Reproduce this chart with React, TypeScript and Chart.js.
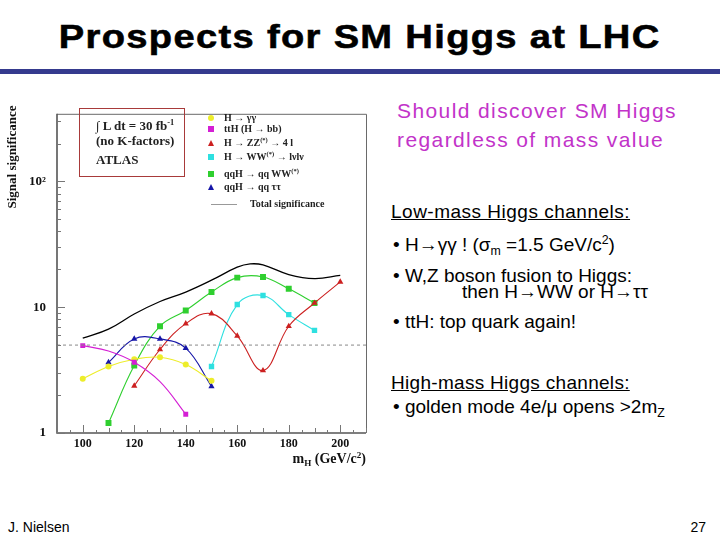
import React, { useEffect, useRef } from "react";
import { Chart, registerables } from "chart.js";

Chart.register(...registerables);

// ---- data ----
const massGG = [100, 110, 120, 130, 140, 150];
const sigGG = [2.7, 3.38, 3.86, 4.0, 3.5, 2.6];

const massTTH = [100, 110, 120, 130, 140];
const sigTTH = [4.95, 4.48, 3.65, 2.56, 1.41];
const markTTH = [1, 0, 1, 0, 1];

const massZZ = [120, 130, 140, 150, 160, 170, 180, 190, 200];
const sigZZ = [2.37, 4.61, 7.4, 8.89, 5.91, 3.14, 7.06, 10.8, 15.9];

const massWW = [150, 160, 170, 180, 190];
const sigWW = [3.38, 10.5, 12.4, 8.73, 6.54];

const massVBFWW = [110, 120, 130, 140, 150, 160, 170, 180, 190];
const sigVBFWW = [1.2, 3.44, 7.06, 9.43, 13.2, 17.2, 17.4, 14.0, 10.8];

const massVBFTT = [110, 120, 130, 140, 150];
const sigVBFTT = [3.64, 5.6, 5.6, 4.73, 2.35];

const massTotal = [100, 110, 120, 130, 140, 150, 160, 165, 170, 180, 190, 200];
const sigTotal = [5.67, 6.69, 8.83, 11.1, 13.2, 16.4, 20.8, 22.1, 21.7, 18.2, 16.9, 17.9];

const discoveryMass = [90, 210];
const discoveryLevel = [5, 5];

const xTickValues = [100, 120, 140, 160, 180, 200];
const yTickValues = [1, 10, 100];
const yTickLabels = ["1", "10", "10²"];

const pts = (xs: number[], ys: number[]) => xs.map((x, i) => ({ x, y: ys[i] }));

const SERIF = "'Liberation Serif', 'DejaVu Serif', serif";
const SANS = "'Liberation Sans', Arial, sans-serif";

const frameTicks = {
  id: "frameTicks",
  afterDatasetsDraw(chart: any) {
    const { ctx, chartArea, scales } = chart;
    const { left, right, top, bottom } = chartArea;
    const x = scales.x;
    const y = scales.y;
    ctx.save();
    ctx.strokeStyle = "#6a6a6a";
    ctx.lineWidth = 1;
    ctx.beginPath();
    ctx.moveTo(left, top + 0.5);
    ctx.lineTo(right + 0.5, top + 0.5);
    ctx.lineTo(right + 0.5, bottom);
    ctx.stroke();
    ctx.strokeStyle = "#555";
    ctx.lineWidth = 1.6;
    ctx.beginPath();
    ctx.moveTo(left, top);
    ctx.lineTo(left, bottom);
    ctx.lineTo(right, bottom);
    ctx.stroke();
    ctx.lineWidth = 1;
    ctx.strokeStyle = "#777";
    ctx.beginPath();
    for (let v = x.min; v <= x.max; v += 5) {
      const px = Math.round(x.getPixelForValue(v)) + 0.5;
      const len = v % 20 === 0 ? 8 : v % 10 === 0 ? 5 : 3;
      ctx.moveTo(px, bottom);
      ctx.lineTo(px, bottom - len);
    }
    for (let d = 1; d <= 100; d *= 10) {
      for (let k = 1; k <= 9; k++) {
        const v = d * k;
        if (v > y.max) break;
        const py = Math.round(y.getPixelForValue(v)) + 0.5;
        const len = k === 1 ? 8 : 4;
        ctx.moveTo(left, py);
        ctx.lineTo(left + len, py);
      }
    }
    ctx.stroke();
    ctx.restore();
  },
};

function ChartCanvas() {
  const ref = useRef<HTMLCanvasElement | null>(null);
  useEffect(() => {
    if (!ref.current) return;
    const line = (label: string, xs: number[], ys: number[], color: string, style: string, r: number, extra: any = {}) => ({
      label,
      data: pts(xs, ys),
      borderColor: color,
      backgroundColor: color,
      borderWidth: 1.1,
      pointStyle: style,
      pointRadius: r,
      pointBorderWidth: 0,
      tension: 0.4,
      ...extra,
    });
    const chart = new Chart(ref.current, {
      type: "line",
      data: {
        datasets: [
          {
            label: "5 sigma",
            data: pts(discoveryMass, discoveryLevel),
            borderColor: "#888",
            borderWidth: 1,
            borderDash: [3, 3],
            pointRadius: 0,
            tension: 0,
          },
          {
            label: "Total significance",
            data: pts(massTotal, sigTotal),
            borderColor: "#000",
            borderWidth: 1.3,
            pointRadius: 0,
            tension: 0.4,
          },
          line("ttH", massTTH, sigTTH, "#d41fd4", "rect", 0, {
            pointRadius: markTTH.map((m) => (m ? 3.5 : 0)),
          }),
          line("H->gg", massGG, sigGG, "#eded2a", "circle", 3),
          line("qqH->qqtautau", massVBFTT, sigVBFTT, "#1616a8", "triangle", 3.6),
          line("H->ZZ", massZZ, sigZZ, "#cc2020", "triangle", 3.6),
          line("H->WW", massWW, sigWW, "#2ee0e0", "rect", 3.8),
          line("qqH->qqWW", massVBFWW, sigVBFWW, "#2fcf2f", "rect", 4.2),
        ],
      },
      options: {
        animation: false,
        responsive: false,
        maintainAspectRatio: false,
        layout: { padding: { left: 0, top: 8, right: 14, bottom: 0 } },
        plugins: { legend: { display: false }, tooltip: { enabled: false } },
        scales: {
          x: {
            type: "linear",
            min: 90,
            max: 210,
            grid: { display: false, drawTicks: false },
            border: { display: false },
            afterBuildTicks: (s: any) => {
              s.ticks = xTickValues.map((v) => ({ value: v }));
            },
            afterFit: (s: any) => {
              s.height = 42;
            },
            ticks: {
              padding: 4,
              autoSkip: false,
              maxRotation: 0,
              color: "#111",
              font: { family: SERIF, weight: "bold", size: 12 },
            },
          },
          y: {
            type: "logarithmic",
            min: 1,
            max: 345,
            grid: { display: false, drawTicks: false },
            border: { display: false },
            afterBuildTicks: (s: any) => {
              s.ticks = yTickValues.map((v) => ({ value: v }));
            },
            afterFit: (s: any) => {
              s.width = 57;
            },
            ticks: {
              padding: 11,
              color: "#111",
              font: { family: SERIF, weight: "bold", size: 13 },
              callback: (v: any) => {
                const i = yTickValues.indexOf(Number(v));
                return i >= 0 ? yTickLabels[i] : "";
              },
            },
          },
        },
      },
      plugins: [frameTicks],
    } as any);
    return () => chart.destroy();
  }, []);
  return (
    <canvas
      ref={ref}
      width={380}
      height={380}
      style={{ position: "absolute", left: 0, top: 95, width: 380, height: 380 }}
    />
  );
}

function T(props: { x: number; y: number; size: number; children: any; style?: any; right?: boolean }) {
  const { x, y, size, children, style, right } = props;
  const pos: any = right ? { right: 720 - x } : { left: x };
  return (
    <div
      style={{
        position: "absolute",
        top: y - size / 2,
        ...pos,
        fontSize: size,
        lineHeight: `${size}px`,
        whiteSpace: "nowrap",
        fontFamily: SANS,
        color: "#000",
        ...style,
      }}
    >
      {children}
    </div>
  );
}

const sup = (t: string, s = 0.65) => (
  <span style={{ fontSize: `${s}em`, verticalAlign: "0.55em", lineHeight: 0 }}>{t}</span>
);
const sub = (t: string, s = 0.65) => (
  <span style={{ fontSize: `${s}em`, verticalAlign: "-0.3em", lineHeight: 0 }}>{t}</span>
);

function Marker(props: { kind: string; color: string; x: number; y: number }) {
  const { kind, color, x, y } = props;
  if (kind === "tri") {
    return (
      <div
        style={{
          position: "absolute",
          left: x - 3.5,
          top: y - 3.5,
          width: 0,
          height: 0,
          borderLeft: "3.5px solid transparent",
          borderRight: "3.5px solid transparent",
          borderBottom: `6px solid ${color}`,
        }}
      />
    );
  }
  return (
    <div
      style={{
        position: "absolute",
        left: x - 3,
        top: y - 3,
        width: 6,
        height: 6,
        background: color,
        borderRadius: kind === "circle" ? 3 : 0,
      }}
    />
  );
}

const LEG_FONT: any = { fontFamily: SERIF, fontWeight: "bold", color: "#222" };

export default function App() {
  const legendRows = [
    { kind: "circle", color: "#eded2a", y: 118, text: <>H → γγ</> },
    { kind: "rect", color: "#d41fd4", y: 129, text: <>ttH (H → bb)</> },
    { kind: "tri", color: "#cc2020", y: 143, text: <>H → ZZ{sup("(*)")} → 4 l</> },
    { kind: "rect", color: "#2ee0e0", y: 157, text: <>H → WW{sup("(*)")} → lνlν</> },
    { kind: "rect", color: "#2fcf2f", y: 174, text: <>qqH → qq WW{sup("(*)")}</> },
    { kind: "tri", color: "#1616a8", y: 187, text: <>qqH → qq ττ</> },
  ];
  return (
    <div
      style={{
        position: "absolute",
        left: 0,
        top: 0,
        width: 720,
        height: 540,
        background: "#fff",
        overflow: "hidden",
      }}
    >
      <div
        style={{
          position: "absolute",
          left: 0,
          width: 720,
          top: 36 - 20,
          textAlign: "center",
          fontFamily: SANS,
          fontWeight: "bold",
          fontSize: 34,
          lineHeight: "40px",
          letterSpacing: 1.2,
          whiteSpace: "nowrap",
          WebkitTextStroke: "0.6px #000",
        }}
      >
        <span style={{ display: "inline-block", transform: "scaleX(1.12)" }}>Prospects for SM Higgs at LHC</span>
      </div>
      <div style={{ position: "absolute", left: 0, top: 69, width: 720, height: 5, background: "#353a8e" }} />

      <ChartCanvas />

      <div
        style={{
          position: "absolute",
          left: 12,
          top: 157,
          transform: "translate(-50%, -50%) rotate(-90deg)",
          fontFamily: SERIF,
          fontWeight: "bold",
          fontSize: 13,
          whiteSpace: "nowrap",
          color: "#111",
        }}
      >
        Signal significance
      </div>
      <T x={366} y={459} size={14} right style={{ fontFamily: SERIF, fontWeight: "bold", color: "#111" }}>
        m{sub("H")} (GeV/c{sup("2")})
      </T>

      <div
        style={{
          position: "absolute",
          left: 79,
          top: 108,
          width: 104,
          height: 67,
          border: "1px solid #a83a3a",
        }}
      />
      <T x={96} y={125} size={13} style={LEG_FONT}>
        ∫ L dt = 30 fb{sup("-1")}
      </T>
      <T x={96} y={140} size={13} style={LEG_FONT}>
        (no K-factors)
      </T>
      <T x={96} y={159} size={13} style={LEG_FONT}>
        ATLAS
      </T>

      {legendRows.map((r, i) => (
        <React.Fragment key={i}>
          <Marker kind={r.kind} color={r.color} x={211} y={r.y} />
          <T x={224} y={r.y} size={10} style={LEG_FONT}>
            {r.text}
          </T>
        </React.Fragment>
      ))}
      <div style={{ position: "absolute", left: 211, top: 204, width: 26, height: 1, background: "#999" }} />
      <T x={250} y={204} size={10} style={LEG_FONT}>
        Total significance
      </T>

      <T x={397} y={110} size={21} style={{ color: "#c233c9", letterSpacing: 1.4 }}>
        Should discover SM Higgs
      </T>
      <T x={397} y={139} size={21} style={{ color: "#c233c9", letterSpacing: 1.4 }}>
        regardless of mass value
      </T>
      <T x={391} y={211} size={19} style={{ textDecoration: "underline", letterSpacing: 0.5 }}>
        Low-mass Higgs channels:
      </T>
      <T x={393} y={244} size={19}>
        • H→γγ ! (σ{sub("m")} =1.5 GeV/c{sup("2")})
      </T>
      <T x={393} y={275} size={19}>
        • W,Z boson fusion to Higgs:
      </T>
      <T x={462} y={291} size={19}>
        then H→WW or H→ττ
      </T>
      <T x={393} y={321} size={19}>
        • ttH: top quark again!
      </T>
      <T x={391} y={382} size={19} style={{ textDecoration: "underline", letterSpacing: 0.3 }}>
        High-mass Higgs channels:
      </T>
      <T x={393} y={406} size={19}>
        • golden mode 4e/μ opens &gt;2m{sub("Z")}
      </T>

      <T x={8} y={527} size={14}>
        J. Nielsen
      </T>
      <T x={706} y={527} size={14} right>
        27
      </T>
    </div>
  );
}
